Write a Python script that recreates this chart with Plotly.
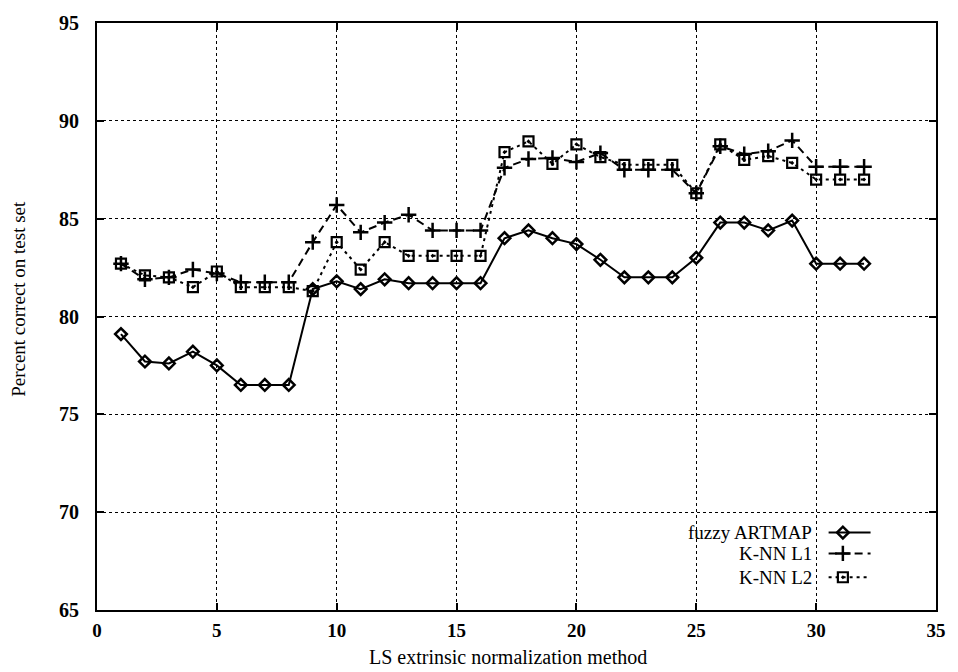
import plotly.graph_objects as go

# Normalization method index
methods = list(range(1, 33))

# Percent correct on the test set
fuzzy_artmap = [79.1, 77.7, 77.6, 78.2, 77.5, 76.5, 76.5, 76.5,
                81.4, 81.8, 81.4, 81.9, 81.7, 81.7, 81.7, 81.7,
                84.0, 84.4, 84.0, 83.7, 82.9, 82.0, 82.0, 82.0,
                83.0, 84.8, 84.8, 84.4, 84.9, 82.7, 82.7, 82.7]
knn_l1 = [82.7, 81.9, 82.0, 82.4, 82.2, 81.75, 81.75, 81.75,
          83.8, 85.7, 84.3, 84.8, 85.2, 84.4, 84.4, 84.4,
          87.6, 88.05, 88.1, 87.9, 88.35, 87.5, 87.5, 87.5,
          86.3, 88.7, 88.3, 88.45, 89.0, 87.65, 87.65, 87.65]
knn_l2 = [82.7, 82.1, 82.0, 81.5, 82.3, 81.5, 81.5, 81.5,
          81.3, 83.8, 82.4, 83.8, 83.1, 83.1, 83.1, 83.1,
          88.4, 88.95, 87.8, 88.8, 88.15, 87.75, 87.75, 87.75,
          86.3, 88.8, 88.0, 88.2, 87.85, 87.0, 87.0, 87.0]

series_names = ["fuzzy ARTMAP", "K-NN L1", "K-NN L2"]
x_ticks = [0, 5, 10, 15, 20, 25, 30, 35]
y_ticks = [65, 70, 75, 80, 85, 90, 95]

FONT = "Liberation Serif"

styles = [
    dict(line=dict(color="black", width=2, dash="solid"),
         marker=dict(symbol="diamond-open", size=9, color="black",
                     line=dict(color="black", width=2.5))),
    dict(line=dict(color="black", width=2, dash="8px,5px"),
         marker=dict(symbol="cross-thin-open", size=11, color="black",
                     line=dict(color="black", width=2.5))),
    dict(line=dict(color="black", width=2, dash="3px,4px"),
         marker=dict(symbol="square-open-dot", size=10, color="black",
                     line=dict(color="black", width=2.2))),
]

fig = go.Figure()
for name, ys, st in zip(series_names, [fuzzy_artmap, knn_l1, knn_l2], styles):
    fig.add_trace(go.Scatter(x=methods, y=ys, mode="lines+markers", name=name,
                             showlegend=False, **st))

# Key in the lower right: text on the left, line sample on the right
key_rows = [0.132, 0.0964, 0.0558]
for name, yk, st in zip(series_names, key_rows, styles):
    fig.add_trace(go.Scatter(x=[0.872, 0.922], y=[yk, yk], mode="lines",
                             line=st["line"], xaxis="x2", yaxis="y2",
                             showlegend=False, hoverinfo="skip"))
    fig.add_trace(go.Scatter(x=[0.889], y=[yk], mode="markers",
                             marker=st["marker"], xaxis="x2", yaxis="y2",
                             showlegend=False, hoverinfo="skip"))
    fig.add_annotation(x=0.855, y=yk, xref="x2", yref="y2", text=name,
                       showarrow=False, xanchor="right", yanchor="middle",
                       font=dict(family=FONT, size=19, color="black"))

axis_common = dict(showline=True, linecolor="black", linewidth=2, mirror="ticks",
                   ticks="inside", ticklen=7, tickwidth=2, tickcolor="black",
                   showgrid=True, gridcolor="black", gridwidth=1, griddash="dot",
                   zeroline=False)
tick_font = dict(family=FONT, size=19, color="black", weight="bold")

fig.update_layout(
    width=958, height=672,
    margin=dict(l=97, r=12, t=19, b=62),
    paper_bgcolor="white", plot_bgcolor="white",
    xaxis=dict(range=[0, 35], tickvals=x_ticks, ticklabelstandoff=2,
               tickfont=tick_font, **axis_common),
    yaxis=dict(range=[65, 95], tickvals=y_ticks, ticklabelstandoff=12,
               tickfont=dict(tick_font, size=20), **axis_common),
    xaxis2=dict(range=[0, 1], overlaying="x", visible=False, anchor="y2"),
    yaxis2=dict(range=[0, 1], overlaying="y", visible=False, anchor="x2"),
)

fig.add_annotation(x=0.49, y=-0.1015, xref="paper", yref="paper",
                   text="LS extrinsic normalization method", showarrow=False,
                   xanchor="center", yanchor="bottom",
                   font=dict(family=FONT, size=20, color="black"))
fig.add_annotation(x=-0.093, y=0.53, xref="paper", yref="paper",
                   text="Percent correct on test set", showarrow=False,
                   textangle=-90, xanchor="center", yanchor="middle",
                   font=dict(family=FONT, size=19, color="black"))

fig.write_html("out.html")
